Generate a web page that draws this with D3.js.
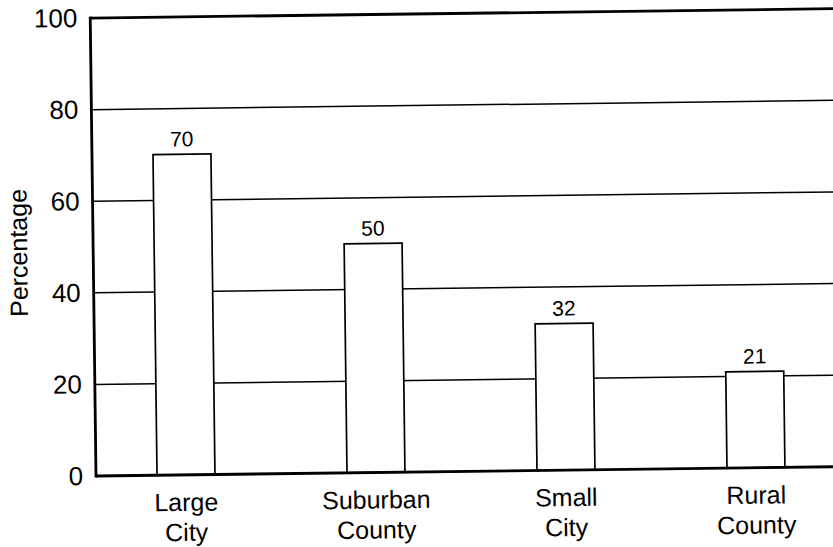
<!DOCTYPE html>
<html><head><meta charset="utf-8">
<script src="https://cdn.jsdelivr.net/npm/d3@7"></script>
<style>body{margin:0;background:#fff}svg{display:block}text{font-family:"Liberation Sans",Arial,sans-serif;fill:#000}</style>
</head><body>
<svg id="c" width="833" height="547"></svg>
<script>
const categories = [["Large","City"],["Suburban","County"],["Small","City"],["Rural","County"]];
const values = [70, 50, 32, 21];
const yTicks = [0, 20, 40, 60, 80, 100];
const yTitle = "Percentage";

const svg = d3.select("#c");
const x0 = 96, yBase = 476, yTop = 18, xRight = 860;
const g = svg.append("g").attr("transform", `rotate(-0.72, ${x0}, ${yBase})`);

const y = d3.scaleLinear().domain([0, 100]).range([yBase, yTop]);
const x = d3.scaleBand().domain(d3.range(categories.length))
  .range([91, 851]).paddingInner(0.695).paddingOuter(0.3475);

// gridlines
g.append("g").selectAll("line").data(yTicks.filter(t => t > 0 && t < 100)).join("line")
  .attr("x1", x0).attr("x2", xRight).attr("y1", d => y(d)).attr("y2", d => y(d))
  .attr("stroke", "#000").attr("stroke-width", 1.5);

// bars
g.append("g").selectAll("rect").data(values).join("rect")
  .attr("x", (d, i) => x(i)).attr("width", x.bandwidth())
  .attr("y", d => y(d)).attr("height", d => yBase - y(d))
  .attr("fill", "#fff").attr("stroke", "#000").attr("stroke-width", 1.7);

// value labels
g.append("g").selectAll("text").data(values).join("text")
  .attr("x", (d, i) => x(i) + x.bandwidth() / 2).attr("y", d => y(d) - 8)
  .attr("text-anchor", "middle").attr("font-size", 21).text(d => d);

// frame
g.append("line").attr("x1", x0).attr("x2", xRight).attr("y1", y(100)).attr("y2", y(100))
  .attr("stroke", "#000").attr("stroke-width", 2.8);
g.append("line").attr("x1", x0).attr("x2", xRight).attr("y1", yBase).attr("y2", yBase)
  .attr("stroke", "#000").attr("stroke-width", 2.8);
g.append("line").attr("x1", x0).attr("x2", x0).attr("y1", y(100) - 1.4).attr("y2", yBase + 1.4)
  .attr("stroke", "#000").attr("stroke-width", 2.8);

// y tick labels
const yAxis = d3.axisLeft(y).tickValues(yTicks).tickSize(0).tickPadding(13);
const ya = g.append("g").attr("transform", `translate(${x0},0)`).call(yAxis);
ya.select(".domain").remove();
ya.selectAll("text").attr("font-size", 26).attr("font-family", '"Liberation Sans",Arial,sans-serif').attr("fill", "#000");

// x labels
const xl = g.append("g").selectAll("text").data(categories).join("text")
  .attr("x", (d, i) => x(i) + x.bandwidth() / 2).attr("y", 512)
  .attr("text-anchor", "middle").attr("font-size", 25);
xl.selectAll("tspan").data(d => d).join("tspan")
  .attr("x", function() { return this.parentNode.getAttribute("x"); })
  .attr("dy", (d, j) => j === 0 ? 0 : 30).text(d => d);

// y title
g.append("text").attr("transform", `translate(30, 252) rotate(-90)`)
  .attr("text-anchor", "middle").attr("font-size", 25).text(yTitle);
</script>
</body></html>
